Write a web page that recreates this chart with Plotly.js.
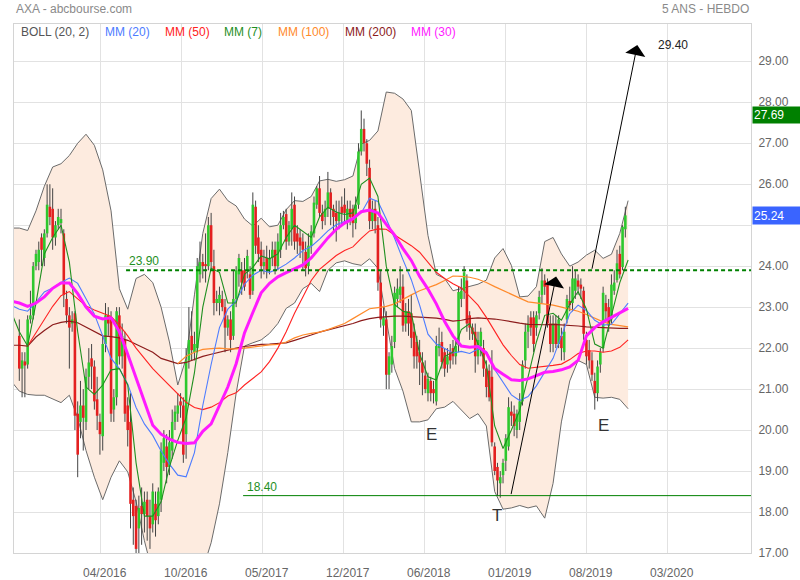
<!DOCTYPE html>
<html><head><meta charset="utf-8">
<script src="https://cdn.plot.ly/plotly-3.0.1.min.js"></script>
<style>html,body{margin:0;padding:0;background:#fff}#chart{width:800px;height:580px}</style>
</head><body><div id="chart"></div>
<script>
// ---- weekly candles (AXA, weekly) ----
const opens = [
22.3,21.5,21.65,21.6,22.7,22.8,24.0,24.1,24.7,24.2,
24.8,25.45,25.4,24.7,25.0,25.05,24.8,23.2,22.8,22.6,
22.85,20.4,20.2,20.6,20.2,21.3,21.75,21.55,20.75,20.2,
19.85,22.1,22.8,22.7,20.5,20.8,22.8,21.8,22.2,20.6,
20.2,18.3,18.15,17.6,18.15,17.95,18.3,17.9,17.7,18.2,
17.9,18.3,19.2,19.6,19.1,19.5,20.2,20.4,20.7,20.6,
19.9,21.7,22.3,21.9,22.0,23.8,24.1,24.05,24.0,25.0,
24.0,23.1,23.1,23.2,23.0,22.5,22.7,22.3,23.2,23.8,
23.9,23.9,23.9,23.8,23.4,25.45,24.7,24.4,24.0,24.2,
23.9,24.2,24.4,24.0,24.4,25.0,25.27,24.6,24.9,25.5,
24.8,24.7,24.6,24.35,24.0,24.5,24.8,25.5,25.9,25.3,
25.2,25.4,25.8,25.4,25.3,25.1,25.45,25.5,25.1,25.4,
25.4,25.05,25.5,26.8,27.35,27.0,26.4,25.1,25.4,25.0,
23.6,22.55,22.7,21.35,21.6,22.15,23.2,23.3,23.5,22.6,
22.9,22.85,22.4,22.15,21.9,21.65,21.33,20.9,21.2,21.0,
20.7,22.0,22.15,21.9,21.6,21.9,22.0,21.8,22.07,23.2,
23.4,23.65,22.8,22.5,22.4,21.8,22.05,22.0,21.5,21.45,
21.3,19.6,19.1,18.7,18.9,19.25,19.6,20.45,20.4,20.0,
20.2,20.7,21.7,22.4,22.75,22.75,22.5,22.85,23.3,23.65,
23.6,22.6,22.1,22.6,22.1,22.3,21.9,22.7,23.15,23.1,
23.4,23.65,23.55,23.4,22.2,21.95,21.7,21.2,20.9,21.6,
22.0,23.1,23.0,22.7,23.4,23.66,24.3,23.98,24.9];
const highs = [
22.7,21.9,21.9,22.8,23.4,24.1,24.4,24.6,24.8,24.9,
26.0,26.0,25.9,25.1,25.4,25.4,24.9,23.4,23.0,22.9,
22.9,20.7,21.2,21.0,21.5,22.0,22.1,21.7,21.3,20.4,
22.3,23.1,23.0,22.9,21.0,23.0,23.0,22.6,22.4,20.8,
20.9,18.6,18.3,18.4,18.6,18.5,18.5,18.3,18.7,18.5,
18.6,19.7,20.0,19.9,20.0,20.5,20.6,20.9,20.9,20.8,
22.0,23.0,22.9,22.4,24.2,24.6,24.3,24.8,25.2,25.3,
24.4,23.4,23.5,23.4,23.2,22.8,22.9,23.9,24.0,24.3,
24.1,24.2,24.4,24.0,25.8,25.6,25.0,24.6,24.4,24.5,
24.4,24.6,24.6,24.8,25.3,25.35,25.4,25.1,25.8,25.7,
25.0,24.9,24.8,24.6,24.8,25.0,25.7,25.95,26.2,25.5,
25.6,26.3,25.9,25.5,25.6,25.6,25.7,25.9,25.6,25.6,
25.5,25.7,27.0,27.8,27.6,27.1,26.6,25.6,25.6,25.2,
23.9,23.0,22.9,21.9,22.3,23.5,23.7,24.0,23.8,23.1,
23.2,23.3,22.6,22.3,22.2,21.9,21.7,21.4,21.3,21.2,
22.3,22.5,22.4,22.0,22.0,22.1,22.2,22.2,23.5,23.7,
24.0,23.8,22.9,22.6,22.6,22.4,22.5,22.2,21.7,21.6,
21.95,19.7,19.2,19.0,19.3,19.9,20.8,20.7,20.6,20.5,
20.9,21.7,22.6,22.8,22.9,22.9,22.9,23.4,23.95,23.8,
23.7,22.8,22.8,22.8,22.8,22.5,22.6,23.3,23.5,24.0,
23.9,23.8,23.7,23.5,22.4,22.2,21.9,21.4,21.7,22.0,
23.5,23.3,23.2,23.8,23.9,24.4,24.5,25.0,25.45];
const lows = [
21.2,20.8,20.8,21.5,22.6,22.7,23.9,23.9,24.0,24.0,
24.7,25.0,24.4,24.5,24.9,24.8,23.0,22.6,21.5,22.4,
20.0,18.85,19.8,19.5,20.0,21.0,21.0,20.5,20.0,19.4,
19.5,21.9,22.3,20.2,20.2,20.6,21.6,21.5,20.2,19.6,
17.6,17.2,16.3,17.0,17.2,17.5,17.3,17.1,17.5,17.4,
17.7,18.0,19.0,18.7,18.9,19.3,20.0,20.2,20.3,19.2,
19.3,21.5,21.7,21.7,21.9,23.6,23.7,23.6,23.9,23.9,
22.8,22.9,22.8,22.9,21.9,22.3,21.9,22.2,23.0,23.5,
23.3,23.4,23.7,23.2,23.3,24.3,24.1,23.7,23.8,23.7,
23.8,24.0,23.8,23.9,24.2,24.9,24.4,24.5,24.5,24.4,
24.3,24.2,23.9,23.75,23.8,24.3,24.7,25.4,25.2,24.9,
25.0,25.2,25.0,24.8,24.6,24.9,25.0,25.1,24.9,25.0,
24.7,24.9,25.4,26.7,26.8,26.2,24.9,24.9,24.8,23.4,
22.5,22.3,21.0,21.0,21.4,22.0,23.0,23.1,22.4,22.4,
22.3,22.0,21.5,21.5,21.1,20.85,20.9,20.7,20.7,20.65,
20.6,21.8,21.5,21.3,21.4,21.5,21.6,21.6,21.9,23.0,
23.2,22.4,22.2,22.2,21.4,21.6,21.8,21.3,20.8,20.7,
19.6,18.9,18.4,18.35,18.7,19.0,19.5,20.1,19.85,19.8,
20.0,20.6,21.5,22.0,22.3,21.9,22.3,22.7,23.1,23.3,
22.5,21.9,21.9,22.0,22.0,21.7,21.7,22.6,22.9,22.9,
23.2,23.3,23.2,22.2,21.6,21.5,21.2,20.5,20.7,21.4,
21.9,22.7,22.4,22.6,23.3,23.6,23.7,23.9,24.7];
const closes = [
21.5,21.7,21.6,22.7,22.8,24.0,24.3,24.4,24.4,24.8,
25.5,25.2,24.7,25.0,25.2,25.15,23.3,22.8,22.5,22.7,
20.35,19.4,20.6,20.3,21.3,21.65,21.55,20.7,20.35,19.9,
22.1,22.8,22.6,20.4,20.8,22.9,21.8,22.3,20.4,20.0,
18.2,17.9,17.1,18.1,17.95,18.25,17.9,17.6,18.5,17.8,
18.5,19.5,19.8,19.1,19.7,20.2,20.45,20.6,20.6,19.4,
21.7,22.2,21.95,22.1,24.0,24.1,24.0,24.0,25.0,24.1,
23.1,23.2,23.3,23.0,22.5,22.7,22.2,23.2,23.9,24.2,
23.6,23.5,24.25,23.3,25.5,24.5,24.3,24.0,24.1,23.9,
24.2,24.4,24.0,24.6,25.0,25.2,24.6,25.0,25.4,24.6,
24.6,24.5,24.4,23.95,24.5,24.85,25.55,25.9,25.3,25.1,
25.4,25.8,25.4,25.2,25.1,25.3,25.3,25.3,25.4,25.2,
25.05,25.5,26.8,27.35,27.0,26.5,25.1,25.4,25.1,23.6,
22.7,22.75,21.35,21.8,22.05,23.35,23.45,23.5,22.55,22.9,
22.6,22.25,21.8,21.8,21.65,21.4,21.0,21.25,20.9,20.9,
22.05,22.1,21.66,21.5,21.8,21.7,21.8,22.05,23.37,23.4,
23.85,22.6,22.5,22.35,21.8,22.2,22.4,21.5,21.05,20.8,
19.7,19.0,18.77,18.85,19.2,19.8,20.56,20.35,20.1,20.4,
20.7,21.6,22.4,22.6,22.5,22.1,22.8,23.25,23.65,23.5,
22.6,22.1,22.6,22.1,22.7,22.0,22.4,23.2,23.05,23.7,
23.7,23.5,23.45,22.35,21.8,21.7,21.35,20.9,21.55,21.9,
23.35,22.9,22.55,23.55,23.6,24.07,23.8,24.96,25.24];

// ---- indicators, sampled every 3 weeks starting at week -3 ----
const IND_START = -3, IND_STEP = 3;
const bbUpper = [
24.93,24.93,24.87,25.35,25.95,26.42,26.5,26.7,27.0,27.22,
26.95,26.35,25.35,23.45,22.95,23.7,23.8,23.6,23.0,22.15,
21.1,21.75,23.3,24.8,25.65,25.88,25.6,25.47,25.15,24.98,
25.17,24.96,25.0,25.38,25.6,25.58,25.7,26.08,26.12,26.07,
26.11,26.2,26.98,27.07,27.3,28.25,28.22,28.08,27.8,26.25,
24.75,23.8,23.7,23.4,23.45,23.5,23.56,23.66,24.2,24.43,
24.02,23.25,23.27,23.5,24.6,24.7,24.3,24.0,24.1,24.27,
24.39,24.19,24.29,24.8,25.6];
const bbLower = [
21.2,20.95,20.87,20.85,20.85,20.75,20.67,20.85,20.3,19.5,
18.85,18.3,18.85,19.25,18.98,18.25,17.3,16.5,15.8,15.4,
15.3,15.5,16.0,16.6,17.25,18.2,19.45,20.9,22.05,22.13,
22.2,22.36,22.6,22.97,23.1,23.45,23.58,23.38,23.9,24.08,
24.13,24.06,24.02,24.18,23.95,22.7,21.5,20.95,20.2,20.2,
20.25,20.52,20.56,20.7,20.5,20.28,20.4,20.1,18.5,18.07,
18.1,18.16,18.1,18.15,17.85,18.7,20.2,21.2,21.7,21.6,
20.8,20.78,20.8,20.75,20.52];
const ma7 = [
22.9,22.4,22.05,23.1,24.3,24.7,25.0,24.1,22.4,21.05,
20.87,21.1,21.47,21.5,21.1,19.2,17.9,17.9,18.25,19.1,
19.75,20.3,21.4,23.0,23.95,23.85,23.1,23.1,23.8,23.97,
24.25,24.18,24.3,24.7,25.0,24.85,24.7,25.2,25.44,25.32,
25.26,25.3,26.0,26.15,25.7,24.0,23.06,22.9,22.85,21.86,
21.3,21.22,21.8,21.9,22.45,22.6,22.12,21.6,20.1,19.55,
20.0,20.48,21.3,22.15,22.8,22.85,22.68,23.07,23.38,22.95,
22.1,22.0,22.8,23.6,24.15];
const ma20 = [
23.05,22.95,22.9,23.12,23.37,23.47,23.6,23.71,23.58,23.2,
22.83,22.3,21.75,21.5,21.12,20.55,20.15,19.87,19.49,19.17,
18.9,18.86,19.45,20.6,21.6,22.5,22.95,23.15,23.56,23.78,
23.9,23.85,23.93,24.05,24.2,24.38,24.48,24.66,24.86,25.01,
25.09,25.15,25.3,25.66,25.58,25.15,24.68,24.16,23.67,23.05,
22.34,22.1,22.0,21.88,21.92,21.87,21.98,21.92,21.48,21.18,
20.86,20.72,20.82,21.08,21.42,21.75,22.3,22.84,23.05,22.92,
22.68,22.56,22.58,22.85,23.1];
const ma30 = [
23.15,23.1,23.02,23.1,23.25,23.46,23.59,23.59,23.33,23.0,
22.78,22.71,22.74,22.4,21.85,21.28,20.7,20.12,19.9,19.78,
19.7,19.67,19.69,19.97,20.15,20.62,21.05,21.62,22.37,22.87,
23.35,23.58,23.74,23.84,23.93,24.03,24.2,24.44,24.69,24.9,
25.05,25.16,25.33,25.37,25.3,25.02,24.76,24.43,24.14,23.75,
23.44,23.08,22.65,22.3,22.05,22.02,22.04,21.88,21.5,21.36,
21.23,21.21,21.25,21.33,21.41,21.43,21.47,21.54,21.7,22.3,
22.5,22.64,22.74,22.86,22.97];
const ma50 = [
null,null,22.05,22.38,22.7,23.02,23.28,23.38,23.2,23.03,
22.93,22.85,22.77,22.56,22.3,22.0,21.75,21.5,21.29,21.09,
20.88,20.68,20.55,20.5,20.56,20.67,20.83,20.91,21.1,21.25,
21.42,21.67,22.0,22.4,22.85,23.25,23.65,23.92,24.1,24.26,
24.38,24.47,24.68,24.86,24.91,24.9,24.76,24.63,24.5,24.34,
24.1,23.85,23.7,23.57,23.47,23.26,23.05,22.75,22.4,22.08,
21.82,21.6,21.51,21.53,21.56,21.58,21.61,21.72,21.87,21.93,
21.93,21.9,21.93,22.02,22.2];
const ma100 = [
null,null,null,null,null,null,null,null,null,null,
null,null,null,null,null,null,null,null,null,null,
21.62,21.8,21.9,21.97,21.99,22.0,21.98,21.98,22.0,22.03,
22.06,22.08,22.09,22.15,22.25,22.32,22.36,22.39,22.45,22.52,
22.6,22.72,22.85,22.96,22.99,23.02,23.08,23.2,23.3,23.4,
23.48,23.55,23.65,23.76,23.75,23.73,23.68,23.6,23.5,23.4,
23.32,23.22,23.13,23.1,23.07,23.05,23.0,22.95,22.9,22.82,
22.72,22.64,22.58,22.55,22.52];
const ma200 = [
22.07,22.07,22.05,22.27,22.43,22.57,22.63,22.66,22.62,22.51,
22.4,22.3,22.28,22.25,22.19,22.1,22.0,21.9,21.75,21.68,
21.62,21.65,21.72,21.8,21.85,21.9,21.96,22.0,22.04,22.07,
22.09,22.1,22.12,22.13,22.19,22.25,22.32,22.39,22.44,22.49,
22.54,22.6,22.67,22.72,22.75,22.77,22.78,22.78,22.77,22.76,
22.75,22.73,22.7,22.66,22.68,22.72,22.74,22.73,22.71,22.68,
22.64,22.61,22.58,22.57,22.57,22.58,22.57,22.56,22.54,22.52,
22.51,22.49,22.48,22.48,22.48];

// ---- labels ----
const dateLabels = ['04/2016','10/2016','05/2017','12/2017','06/2018','01/2019','08/2019','03/2020'];
const priceTicks = [17,18,19,20,21,22,23,24,25,26,27,28,29];
const legendNames = ['BOLL (20, 2)','MM (20)','MM (50)','MM (7)','MM (100)','MM (200)','MM (30)'];
const levelHigh = 23.90, levelLow = 18.40, target = 29.40;
const lastHigh = 27.69, lastClose = 25.24;

// ---- build traces ----
const N = closes.length;
const wx = [], wy = [], ux = [], uy = [], dx = [], dy = [];
for (let i = 0; i < N; i++) {
  wx.push(i, i, null); wy.push(lows[i], highs[i], null);
  let lo = Math.min(opens[i], closes[i]), hi = Math.max(opens[i], closes[i]);
  if (hi - lo < 0.05) { hi += 0.025; lo -= 0.025; }
  if (closes[i] >= opens[i]) { ux.push(i, i, null); uy.push(lo, hi, null); }
  else { dx.push(i, i, null); dy.push(lo, hi, null); }
}
const indX = bbUpper.map((_, k) => IND_START + IND_STEP * k);
const line = (y, color, width) => ({x: indX, y: y, type: 'scatter', mode: 'lines',
  line: {color: color, width: width}, hoverinfo: 'skip'});

const C = {boll:'#6b6b6b', ma20:'#4d7cff', ma50:'#ff2222', ma7:'#1f8f1f', ma100:'#ff8a2b', ma200:'#8c1c1c', ma30:'#ff1aff'};

const traces = [
  line(bbLower, C.boll, 1),
  Object.assign(line(bbUpper, C.boll, 1), {fill: 'tonexty', fillcolor: '#fdebdf'}),
  {x: wx, y: wy, type: 'scatter', mode: 'lines', line: {color: '#444444', width: 1}, hoverinfo: 'skip'},
  {x: ux, y: uy, type: 'scatter', mode: 'lines', line: {color: '#2ec82e', width: 2.6}, hoverinfo: 'skip'},
  {x: dx, y: dy, type: 'scatter', mode: 'lines', line: {color: '#e32020', width: 2.6}, hoverinfo: 'skip'},
  line(ma200, C.ma200, 1.2),
  line(ma100, C.ma100, 1.2),
  line(ma50, C.ma50, 1.1),
  line(ma20, C.ma20, 1.1),
  line(ma7, C.ma7, 1.1),
  line(ma30, C.ma30, 3)
];

const PX0 = 14, PW = 737, PY1 = 553, PH = 529;
const px = v => (v - PX0) / PW, py = v => (PY1 - v) / PH;
const legendColors = ['#555555', C.ma20, C.ma50, C.ma7, C.ma100, C.ma200, C.ma30];
const legendLeft = [19, 103, 163, 222, 276, 343, 409];

const ann = [];
ann.push({xref:'paper', yref:'paper', x:px(14), y:py(9), xanchor:'left', yanchor:'middle', text:'AXA - abcbourse.com', showarrow:false, font:{size:12, color:'#8a8a8a'}});
ann.push({xref:'paper', yref:'paper', x:1, y:py(9), xanchor:'right', yanchor:'middle', text:'5 ANS - HEBDO', showarrow:false, font:{size:12, color:'#8a8a8a'}});
legendNames.forEach((t, j) => ann.push({xref:'paper', yref:'paper', x:px(legendLeft[j]), y:py(32), xanchor:'left', yanchor:'middle', text:t, showarrow:false, font:{size:12, color:legendColors[j]}}));
ann.push({x:44.7, y:levelHigh, xanchor:'center', yanchor:'bottom', text:levelHigh.toFixed(2), showarrow:false, font:{size:12, color:'#1f8f1f'}});
ann.push({x:87.3, y:levelLow, xanchor:'center', yanchor:'bottom', text:levelLow.toFixed(2), showarrow:false, font:{size:12, color:'#1f8f1f'}});
ann.push({x:148.4, y:19.9, text:'E', showarrow:false, font:{size:17, color:'#333'}});
ann.push({x:171.8, y:17.91, text:'T', showarrow:false, font:{size:17, color:'#333'}});
ann.push({x:210, y:20.11, text:'E', showarrow:false, font:{size:17, color:'#333'}});
ann.push({x:235.1, y:target, yanchor:'middle', text:target.toFixed(2), showarrow:false, font:{size:12, color:'#222'}});
ann.push({x:193.1, y:23.75, ax:176.8, ay:levelLow, axref:'x', ayref:'y', text:'', showarrow:true, arrowhead:1, arrowsize:3.4, arrowwidth:1, arrowcolor:'#000'});
ann.push({x:222.3, y:target, ax:205.9, ay:levelHigh, axref:'x', ayref:'y', text:'', showarrow:true, arrowhead:1, arrowsize:3.4, arrowwidth:1, arrowcolor:'#000'});
ann.push({xref:'paper', x:1, xanchor:'left', xshift:1, y:lastHigh, yanchor:'middle', text:lastHigh.toFixed(2), showarrow:false, bgcolor:'#008000', font:{size:12, color:'#fff'}, width:45, height:14, align:'left', borderpad:1});
ann.push({xref:'paper', x:1, xanchor:'left', xshift:1, y:lastClose, yanchor:'middle', text:lastClose.toFixed(2), showarrow:false, bgcolor:'#3a64ff', font:{size:12, color:'#fff'}, width:45, height:15, align:'left', borderpad:1});

const shapes = [
  {type:'line', xref:'x', yref:'y', x0:38.4, x1:263.2, y0:levelHigh, y1:levelHigh, line:{color:'#008000', width:2, dash:'4px,3px'}},
  {type:'line', xref:'x', yref:'y', x0:80.5, x1:263.2, y0:levelLow, y1:levelLow, line:{color:'#008000', width:1}},
  {type:'line', xref:'x', yref:'y', layer:'below', x0:-1.7, x1:-1.7, y0:bbLower[0], y1:bbUpper[0], line:{color:C.boll, width:1}}
];

const layout = {
  width: 800, height: 580,
  margin: {l: 14, r: 49, t: 24, b: 27},
  paper_bgcolor: '#fff', plot_bgcolor: '#fff',
  showlegend: false, hovermode: false,
  font: {family: 'Liberation Sans, Arial, sans-serif', size: 12, color: '#666'},
  xaxis: {range: [-1.91, 263.2], tickmode: 'array',
    tickvals: [29.28, 58.42, 87.55, 116.69, 145.83, 174.96, 204.1, 233.24], ticktext: dateLabels,
    showgrid: true, gridcolor: '#e2e2e2', zeroline: false, showline: true, linecolor: '#d4d4d4', mirror: true,
    ticks: '', ticklabelstandoff: 9, ticklabelshift: 4, tickfont: {size: 12, color: '#666'}, fixedrange: true},
  yaxis: {side: 'right', range: [17, 29.91], tickmode: 'array', tickvals: priceTicks,
    // the 25.00 label sits under the last-close box, as in the source chart
    ticktext: priceTicks.map(v => Math.abs(v - lastClose) < 0.5 ? '' : v.toFixed(2)),
    showgrid: true, gridcolor: '#e2e2e2', zeroline: false, showline: true, linecolor: '#d4d4d4', mirror: true,
    ticks: '', ticklabelstandoff: 4, tickfont: {size: 12, color: '#666'}, fixedrange: true},
  annotations: ann, shapes: shapes
};
Plotly.newPlot('chart', traces, layout, {displayModeBar: false, staticPlot: true});
</script>
</body></html>
